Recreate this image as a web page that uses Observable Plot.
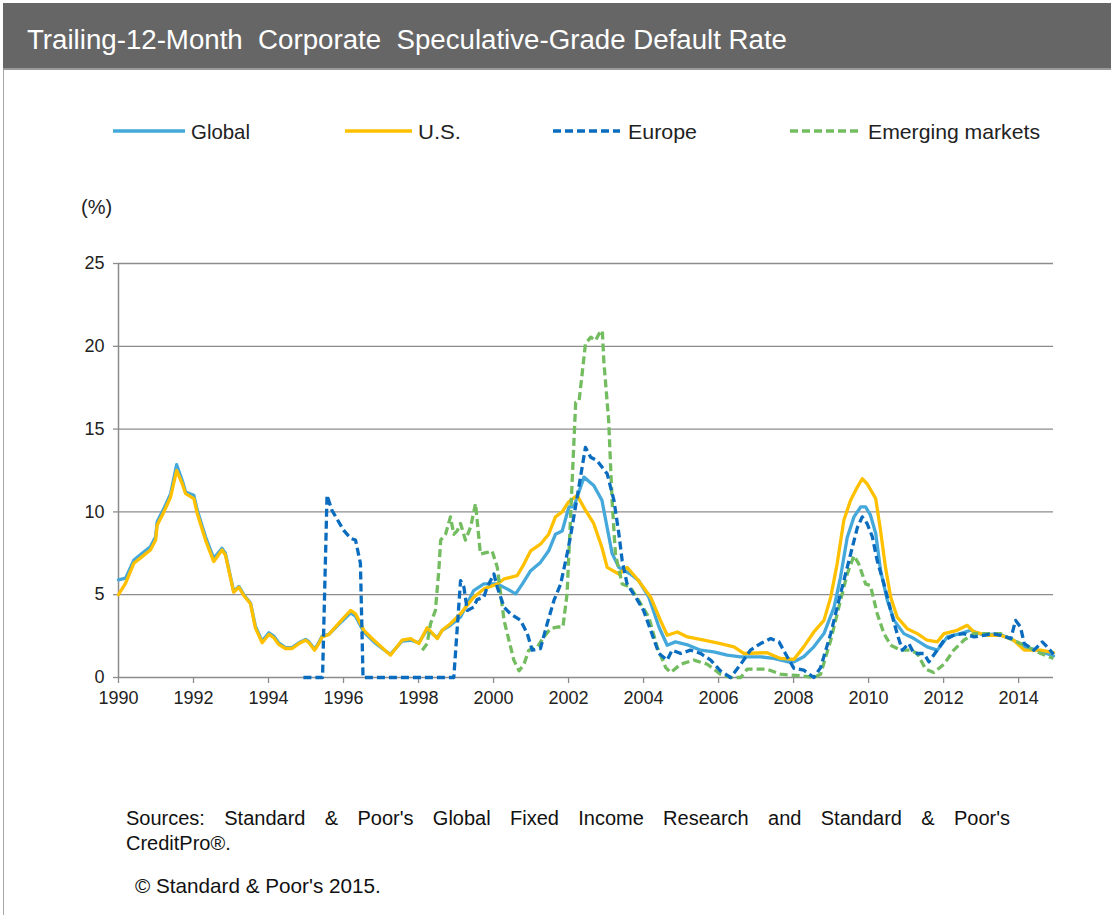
<!DOCTYPE html>
<html>
<head>
<meta charset="utf-8">
<script src="https://cdn.jsdelivr.net/npm/d3@7"></script>
<script src="https://cdn.jsdelivr.net/npm/@observablehq/plot@0.6"></script>
<style>
  html, body { margin: 0; padding: 0; background: #fff; }
  #page { position: relative; width: 1111px; height: 915px; overflow: hidden; background: #fff;
          font-family: "Liberation Sans Narrow", "Arial Narrow", "Liberation Sans", Arial, sans-serif; color: #222; }
  #frame { position: absolute; left: 3px; top: 3px; width: 1120px; height: 1000px; border-left: 1px solid #a6a6a6; border-top: 1px solid #a6a6a6; }
  #titlebar { position: absolute; left: 3px; top: 3px; width: 1108px; height: 65px; background: #666666; border-bottom: 2px solid #9a9a9a; }
  #chart { position: absolute; left: 0; top: 180px; }
  #overlay { position: absolute; left: 0; top: 0; }
  .foot { position: absolute; font-size: 20px; line-height: 24px; color: #111; white-space: nowrap; }
  #src1 { left: 126px; top: 806px; width: 884px; text-align: justify; text-align-last: justify; white-space: normal; }
  #src2 { left: 126px; top: 831px; }
  #copy { left: 135px; top: 874px; font-size: 20.7px; }
</style>
</head>
<body>
<div id="page">
  <div id="frame"></div>
  <div id="titlebar"></div>
  <div id="chart"></div>
  <svg id="overlay" width="1111" height="915"></svg>
  <div class="foot" id="src1">Sources: Standard &amp; Poor's Global Fixed Income Research and Standard &amp; Poor's</div>
  <div class="foot" id="src2">CreditPro®.</div>
  <div class="foot" id="copy">© Standard &amp; Poor's 2015.</div>
</div>
<script>
const FONT = '"Liberation Sans Narrow", "Arial Narrow", "Liberation Sans", Arial, sans-serif';

const titleText = "Trailing-12-Month  Corporate  Speculative-Grade Default Rate";
const unitLabel = "(%)";
const seriesNames = ["Global", "U.S.", "Europe", "Emerging markets"];
const seriesColors = ["#45a8da", "#ffc000", "#0a6cbf", "#73bc5f"];
const seriesDash = [null, null, "8,4", "8,4"];
const xTicks = [1990, 1992, 1994, 1996, 1998, 2000, 2002, 2004, 2006, 2008, 2010, 2012, 2014];
const yTicks = [0, 5, 10, 15, 20, 25];

// Global
const globalYears = [1990.0,1990.19,1990.41,1990.63,1990.85,1990.99,1991.03,1991.21,1991.39,1991.55,1991.70,1991.79,1992.01,1992.10,1992.32,1992.54,1992.76,1992.85,1993.07,1993.21,1993.34,1993.52,1993.65,1993.83,1994.01,1994.14,1994.27,1994.45,1994.63,1994.81,1994.99,1995.08,1995.23,1995.34,1995.43,1995.61,1995.96,1996.19,1996.32,1996.54,1996.81,1997.03,1997.25,1997.56,1997.79,1998.01,1998.23,1998.50,1998.63,1998.85,1999.12,1999.47,1999.74,2000.10,2000.36,2000.59,2000.77,2000.99,2001.25,2001.47,2001.65,2001.83,2002.01,2002.14,2002.41,2002.67,2002.89,2003.16,2003.34,2003.65,2003.87,2004.14,2004.41,2004.63,2004.85,2005.20,2005.52,2005.87,2006.23,2006.59,2007.12,2007.47,2007.83,2008.01,2008.27,2008.54,2008.81,2009.08,2009.25,2009.43,2009.61,2009.79,2009.92,2010.05,2010.19,2010.32,2010.50,2010.68,2010.94,2011.21,2011.56,2011.83,2012.10,2012.45,2012.72,2013.07,2013.43,2013.79,2014.15,2014.50,2014.93];
const globalRates = [5.9,6.0,7.1,7.5,7.9,8.5,9.4,10.2,11.1,12.85,11.9,11.2,11.0,10.1,8.5,7.2,7.8,7.5,5.2,5.5,5.0,4.5,3.1,2.2,2.7,2.5,2.1,1.8,1.8,2.1,2.3,2.15,1.7,2.1,2.5,2.6,3.4,3.9,3.7,2.75,2.15,1.75,1.4,2.2,2.25,2.1,2.9,2.4,2.85,3.15,3.65,5.25,5.65,5.65,5.35,5.05,5.65,6.45,6.95,7.65,8.65,8.85,10.3,10.3,12.1,11.6,10.7,7.5,6.65,6.25,5.85,4.85,3.05,1.95,2.15,1.95,1.65,1.55,1.35,1.25,1.25,1.15,0.95,0.95,1.25,1.85,2.65,4.25,6.05,8.45,9.7,10.3,10.3,9.8,8.7,6.45,4.65,3.45,2.65,2.35,1.85,1.65,2.45,2.65,2.85,2.55,2.65,2.35,1.85,1.65,1.3];

// U.S.
const usYears = [1990.0,1990.19,1990.41,1990.63,1990.85,1990.99,1991.03,1991.21,1991.39,1991.55,1991.70,1991.79,1992.01,1992.10,1992.32,1992.54,1992.76,1992.85,1993.07,1993.21,1993.34,1993.52,1993.65,1993.83,1994.01,1994.14,1994.27,1994.45,1994.63,1994.81,1994.99,1995.08,1995.23,1995.34,1995.43,1995.61,1995.96,1996.19,1996.32,1996.54,1996.81,1997.03,1997.25,1997.56,1997.79,1998.01,1998.23,1998.50,1998.63,1998.85,1999.12,1999.47,1999.74,2000.10,2000.28,2000.63,2000.81,2000.99,2001.25,2001.47,2001.65,2001.83,2002.00,2002.23,2002.45,2002.67,2002.89,2003.03,2003.34,2003.56,2003.83,2004.19,2004.45,2004.63,2004.90,2005.17,2005.61,2006.05,2006.41,2006.67,2007.29,2007.65,2008.01,2008.27,2008.54,2008.81,2008.99,2009.16,2009.34,2009.52,2009.70,2009.83,2009.96,2010.19,2010.32,2010.45,2010.59,2010.76,2011.03,2011.30,2011.56,2011.83,2012.01,2012.36,2012.63,2012.81,2013.16,2013.52,2013.87,2014.15,2014.41,2014.59,2014.93];
const usRates = [5.0,5.7,6.9,7.3,7.7,8.3,9.2,10.0,10.9,12.5,11.7,11.1,10.8,9.9,8.3,7.0,7.7,7.4,5.15,5.45,4.95,4.45,3.0,2.1,2.6,2.4,2.0,1.75,1.75,2.05,2.25,2.1,1.65,2.05,2.45,2.6,3.5,4.05,3.85,2.85,2.25,1.8,1.35,2.25,2.35,2.05,3.0,2.35,2.85,3.25,3.85,4.85,5.35,5.65,5.95,6.15,6.85,7.65,8.05,8.65,9.7,10.0,10.6,11.0,10.1,9.3,7.85,6.65,6.25,6.65,5.95,4.85,3.45,2.55,2.75,2.45,2.25,2.05,1.85,1.45,1.5,1.15,1.1,1.85,2.75,3.45,4.85,6.85,9.5,10.7,11.5,12.0,11.7,10.8,8.85,6.65,4.85,3.65,2.95,2.65,2.25,2.15,2.65,2.85,3.15,2.75,2.55,2.55,2.25,1.65,1.65,1.65,1.5];

// Europe
const europeYears = [1994.93,1995.44,1995.56,1995.69,1996.0,1996.19,1996.32,1996.45,1996.52,1998.94,1999.12,1999.21,1999.30,1999.47,1999.56,1999.74,1999.83,2000.01,2000.10,2000.28,2000.45,2000.72,2000.90,2001.03,2001.25,2001.43,2001.61,2001.79,2001.96,2002.05,2002.23,2002.45,2002.59,2002.76,2003.03,2003.21,2003.34,2003.43,2003.56,2003.79,2004.0,2004.19,2004.41,2004.63,2004.76,2004.99,2005.25,2005.52,2005.79,2006.05,2006.32,2006.59,2006.85,2007.12,2007.39,2007.61,2007.83,2008.01,2008.27,2008.54,2008.72,2008.99,2009.25,2009.52,2009.70,2009.83,2009.96,2010.10,2010.23,2010.41,2010.59,2010.76,2010.90,2011.07,2011.21,2011.47,2011.61,2011.83,2012.01,2012.27,2012.54,2012.81,2013.07,2013.30,2013.52,2013.79,2013.92,2014.05,2014.15,2014.41,2014.63,2014.76,2014.93];
const europeRates = [0,0,11.0,10.1,8.9,8.4,8.3,6.9,0,0,5.85,5.45,4.05,4.25,4.7,4.85,5.45,6.25,5.45,4.25,3.85,3.45,2.65,1.65,1.75,3.25,4.65,5.65,7.45,8.5,10.9,13.9,13.3,13.1,12.3,10.7,8.7,7.05,5.65,4.85,4.05,2.85,1.45,1.05,1.65,1.45,1.65,1.45,1.05,0.4,0.0,0.8,1.65,2.05,2.35,2.15,1.25,0.55,0.45,0,0.6,2.65,5.05,7.45,9.05,9.7,9.3,8.5,7.05,5.65,4.05,2.65,1.65,2.05,1.45,1.45,0.95,1.65,2.25,2.55,2.65,2.45,2.55,2.65,2.55,2.35,3.45,3.05,2.05,1.65,2.15,1.85,1.4];

// Emerging markets
const emYears = [1998.10,1998.23,1998.32,1998.45,1998.54,1998.59,1998.72,1998.85,1998.94,1999.03,1999.12,1999.25,1999.39,1999.52,1999.65,1999.83,1999.96,2000.10,2000.19,2000.28,2000.41,2000.54,2000.68,2000.81,2000.94,2001.17,2001.34,2001.52,2001.70,2001.85,2001.96,2002.05,2002.14,2002.19,2002.28,2002.36,2002.45,2002.59,2002.72,2002.81,2002.90,2002.94,2003.07,2003.16,2003.25,2003.43,2003.65,2003.87,2004.14,2004.36,2004.59,2004.72,2004.99,2005.34,2005.70,2006.05,2006.32,2006.59,2006.76,2007.29,2007.65,2008.19,2008.54,2008.72,2008.99,2009.25,2009.43,2009.61,2009.74,2009.83,2009.92,2010.05,2010.23,2010.41,2010.59,2010.85,2011.12,2011.30,2011.52,2011.74,2012.01,2012.27,2012.54,2012.81,2013.16,2013.52,2013.87,2014.23,2014.59,2014.93];
const emRates = [1.65,2.05,3.25,4.05,6.45,8.3,8.65,9.7,8.65,8.85,9.3,8.3,9.1,10.5,7.45,7.55,7.65,6.65,5.05,3.45,2.25,1.05,0.4,0.8,1.65,1.85,2.45,2.95,3.05,3.05,5.05,9.5,14.1,16.6,16.7,18.3,20.15,20.55,20.35,20.75,20.95,19.1,15.5,10.7,7.45,5.65,5.45,4.65,3.65,1.85,0.6,0.3,0.8,1.05,0.8,0.2,0.0,0.0,0.5,0.5,0.2,0.1,0,0.2,2.25,4.65,6.25,7.35,6.85,6.25,5.65,5.55,3.85,2.65,1.95,1.65,1.65,1.45,0.5,0.3,0.8,1.65,2.25,2.65,2.65,2.65,2.25,1.85,1.45,1.15];

const seriesData = [
  [globalYears, globalRates],
  [usYears, usRates],
  [europeYears, europeRates],
  [emYears, emRates]
].map(([ys, vs], i) => ys.map((yr, j) => ({year: yr, rate: vs[j], series: seriesNames[i]})));

const drawOrder = [0, 1, 3, 2];
const GRID = "#8c8c8c";

const chart = Plot.plot({
  width: 1111,
  height: 537,
  marginLeft: 118,
  marginRight: 58,
  marginTop: 83,
  marginBottom: 40,
  x: {domain: [1990, 2014.93]},
  y: {domain: [0, 25]},
  style: {fontFamily: FONT, fontSize: "18px", color: "#222", background: "transparent", overflow: "visible"},
  marks: [
    Plot.gridY(yTicks.slice(1), {stroke: GRID, strokeOpacity: 1, strokeWidth: 1.3}),
    Plot.axisY(yTicks, {tickSize: 5, tickPadding: 9, stroke: GRID, strokeWidth: 1.3, fill: "#222", label: null, fontSize: 18}),
    Plot.axisX(xTicks, {tickSize: 6, tickPadding: 8, stroke: GRID, strokeWidth: 1.3, fill: "#222", label: null, fontSize: 18, tickFormat: d => String(d)}),
    Plot.ruleX([1990], {stroke: GRID, strokeWidth: 1.5}),
    Plot.ruleY([0], {stroke: GRID, strokeWidth: 1.5}),
    ...drawOrder.map(i => Plot.line(seriesData[i], {
      x: "year", y: "rate",
      stroke: seriesColors[i],
      strokeWidth: 3.3,
      strokeDasharray: seriesDash[i] || undefined,
      strokeLinejoin: "round",
      strokeLinecap: seriesDash[i] ? "butt" : "round"
    }))
  ]
});
document.getElementById("chart").appendChild(chart);

// Overlay: title, legend, unit label
const svg = d3.select("#overlay").style("font-family", FONT);
svg.append("text").attr("x", 27).attr("y", 49).attr("fill", "#fff")
  .attr("font-size", 27).attr("textLength", 760).attr("lengthAdjust", "spacingAndGlyphs")
  .style("white-space", "pre").text(titleText);

const legendLines = [[113, 185], [345, 412], [553, 620], [790, 860]];
const legendText = [[191, 59], [418, 43], [628, 69], [868, 172]];
seriesNames.forEach((name, i) => {
  svg.append("line").attr("x1", legendLines[i][0]).attr("x2", legendLines[i][1])
    .attr("y1", 131).attr("y2", 131).attr("stroke", seriesColors[i]).attr("stroke-width", 3.5)
    .attr("stroke-dasharray", seriesDash[i]);
  svg.append("text").attr("x", legendText[i][0]).attr("y", 139).attr("fill", "#222")
    .attr("font-size", 21).attr("textLength", legendText[i][1]).attr("lengthAdjust", "spacingAndGlyphs")
    .text(name);
});
svg.append("text").attr("x", 81).attr("y", 214).attr("fill", "#222").attr("font-size", 20).text(unitLabel);
</script>
</body>
</html>
